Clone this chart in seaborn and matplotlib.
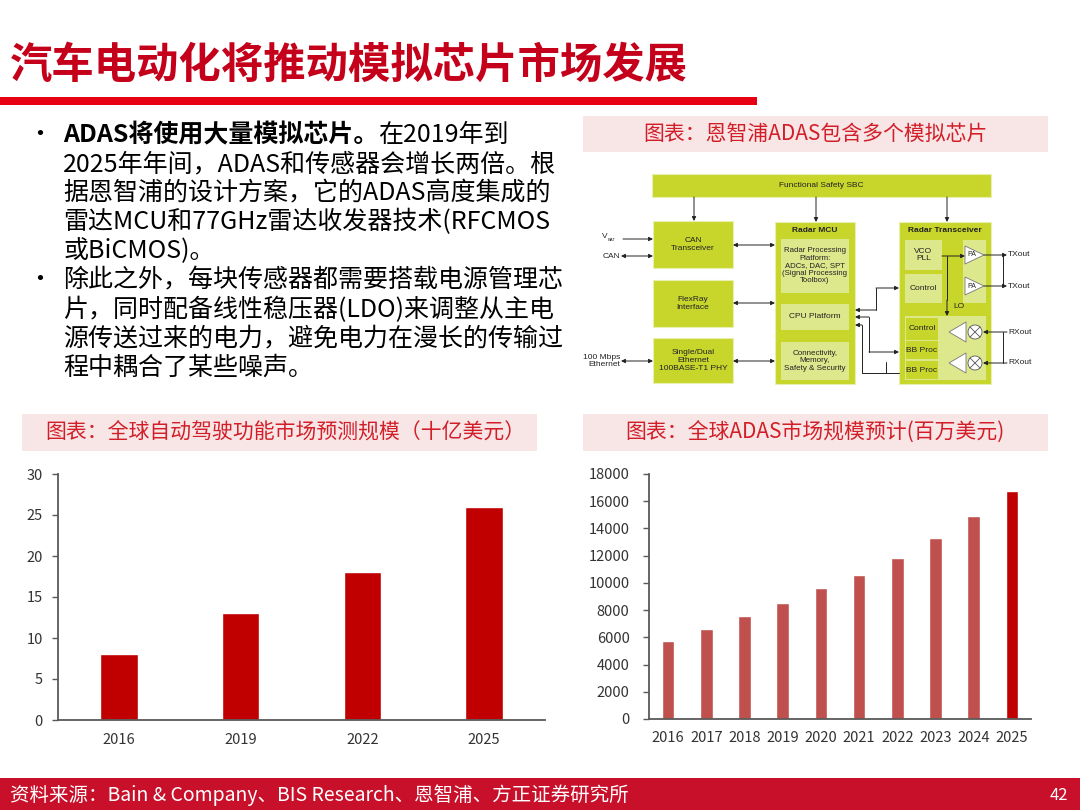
import matplotlib
matplotlib.use('Agg')
import matplotlib.pyplot as plt
import seaborn as sns
import pandas as pd
from matplotlib.patches import Rectangle, Polygon, Circle

sns.set_theme(style='white')
plt.rcParams['font.family'] = ['Noto Sans CJK SC', 'DejaVu Sans']

# ---- data ----
years_ad = ['2016', '2019', '2022', '2025']
ad_market = [8, 13, 18, 26]          # 十亿美元

years_adas = ['2016', '2017', '2018', '2019', '2020',
              '2021', '2022', '2023', '2024', '2025']
adas_market = [5750, 6600, 7570, 8550, 9600,
               10580, 11850, 13320, 14900, 16750]   # 百万美元

title = '汽车电动化将推动模拟芯片市场发展'
bullet_bold = 'ADAS将使用大量模拟芯片。'
bullet_lines = ['在2019年到',
                '2025年年间，ADAS和传感器会增长两倍。根',
                '据恩智浦的设计方案，它的ADAS高度集成的',
                '雷达MCU和77GHz雷达收发器技术(RFCMOS',
                '或BiCMOS)。',
                '除此之外，每块传感器都需要搭载电源管理芯',
                '片，同时配备线性稳压器(LDO)来调整从主电',
                '源传送过来的电力，避免电力在漫长的传输过',
                '程中耦合了某些噪声。']
cap_diagram = '图表：恩智浦ADAS包含多个模拟芯片'
cap_left = '图表：全球自动驾驶功能市场预测规模（十亿美元）'
cap_right = '图表：全球ADAS市场规模预计(百万美元)'
source = '资料来源：Bain & Company、BIS Research、恩智浦、方正证券研究所'
page_no = '42'

RED = '#C00000'
LIME = '#C8D62C'
LIME_LT = '#DDE78C'
INK = '#222222'

fig = plt.figure(figsize=(10.8, 8.1), dpi=100)

# background layer in pixel coordinates
bg = fig.add_axes([0, 0, 1, 1], zorder=0)
bg.set_xlim(0, 1080)
bg.set_ylim(810, 0)
bg.axis('off')

# title + red rule
bg.text(10, 66, title, color='#C4001A', fontsize=30.5, fontweight='bold',
        ha='left', va='center')
bg.add_patch(Rectangle((0, 97), 757, 8, color='#E60012', lw=0))

# bullet text
y0, dy = 135, 29.1
bg.text(27, y0, '•', fontsize=18, va='center', color='black')
bg.text(27, y0 + 5 * dy, '•', fontsize=18, va='center', color='black')
tb = bg.text(63, y0, bullet_bold, fontsize=18, fontweight='bold',
             va='center', ha='left', color='black')
bg.annotate(bullet_lines[0], xy=(1, 0.5), xycoords=tb, fontsize=18,
            va='center', ha='left', color='black')
for i, line in enumerate(bullet_lines[1:], start=1):
    bg.text(63, y0 + i * dy, line, fontsize=18, va='center', ha='left',
            color='black')


def caption(x0, x1, ya, yb, text, tx):
    bg.add_patch(Rectangle((x0, ya), x1 - x0, yb - ya, color='#F8E5E5', lw=0))
    bg.text(tx, (ya + yb) / 2, text, color='#D21E28', fontsize=15,
            ha='center', va='center')


caption(583, 1048, 116, 152, cap_diagram, 815)
caption(22, 537, 414, 451, cap_left, 285)
caption(583, 1048, 414, 451, cap_right, 815)

# footer
bg.add_patch(Rectangle((0, 778), 1080, 32, color='#C8102A', lw=0))
bg.text(10, 795, source, color='white', fontsize=14, ha='left', va='center')
bg.text(1068, 795, page_no, color='white', fontsize=12, ha='right', va='center')

# ---- NXP radar block diagram ----
DF = 'Liberation Sans'


def box(x0, y0, x1, y1, fc=LIME, ec='#E8F0B0', lw=0.8):
    bg.add_patch(Rectangle((x0, y0), x1 - x0, y1 - y0, fc=fc, ec=ec, lw=lw))


def label(x, y, s, size=6, bold=False, ha='center'):
    bg.text(x, y, s, family=DF, fontsize=size, ha=ha, va='center',
            color=INK, fontweight='bold' if bold else 'normal',
            linespacing=1.1)


def arrow(x0, y0, x1, y1, both=False):
    bg.annotate('', xy=(x1, y1), xytext=(x0, y0),
                arrowprops=dict(arrowstyle='<|-|>' if both else '-|>',
                                color=INK, lw=0.7, mutation_scale=6,
                                shrinkA=0, shrinkB=0))


def line(xs, ys):
    bg.plot(xs, ys, color=INK, lw=0.7)


box(652, 174, 991, 197)
label(821, 185.5, 'Functional Safety SBC')
box(653, 221, 733, 268)
label(693, 244.5, 'CAN\nTransceiver')
box(653, 280, 733, 327)
label(693, 303.5, 'FlexRay\nInterface')
box(653, 338, 733, 383)
label(693, 360.5, 'Single/Dual\nEthernet\n100BASE-T1 PHY')

box(775, 222, 855, 384)
label(815, 231, 'Radar MCU', size=6, bold=True)
box(781, 239, 849, 293, fc=LIME_LT, ec='none')
label(815, 266, 'Radar Processing\nPlatform:\nADCs, DAC, SPT\n(Signal Processing\nToolbox)', size=5.6)
box(781, 304, 849, 330, fc=LIME_LT, ec='none')
label(815, 317, 'CPU Platform')
box(781, 342, 849, 380, fc=LIME_LT, ec='none')
label(815, 361, 'Connectivity,\nMemory,\nSafety & Security', size=5.8)

box(899, 222, 991, 384)
label(945, 231, 'Radar Transceiver', size=6, bold=True)
box(905, 240, 942, 270, fc=LIME_LT, ec='none')
label(923.5, 255, 'VCO\nPLL')
box(905, 274, 942, 303, fc=LIME_LT, ec='none')
label(923.5, 288.5, 'Control')
box(963, 240, 986, 303, fc=LIME_LT, ec='none')
box(905, 316, 986, 380, fc=LIME_LT, ec='none')
box(906, 318, 938, 339.5, fc=LIME, ec='none')
label(922, 329, 'Control')
box(906, 340.5, 938, 359, fc=LIME, ec='none')
label(922, 350, 'BB Proc')
box(906, 360.5, 938, 379, fc=LIME, ec='none')
label(922, 370, 'BB Proc')

# PA triangles and Rx chains
for ty in (255, 286):
    bg.add_patch(Polygon([(965, ty - 9), (965, ty + 9), (984, ty)],
                         fc='white', ec='#777777', lw=0.6))
    bg.text(967, ty, 'PA', family=DF, fontsize=5, va='center', color=INK)
    arrow(984, ty, 1007, ty)
    label(1008, ty, 'TXout', ha='left')
for ry in (332, 363):
    bg.add_patch(Polygon([(949, ry), (966, ry - 10), (966, ry + 10)],
                         fc='white', ec='#777777', lw=0.6))
    bg.add_patch(Circle((975, ry), 7, fc='white', ec='#555555', lw=0.6))
    bg.plot([970, 980], [ry - 5, ry + 5], color='#555555', lw=0.6)
    bg.plot([970, 980], [ry + 5, ry - 5], color='#555555', lw=0.6)
    arrow(1007, ry, 983, ry)
    label(1008, ry, 'RXout', ha='left')
line([1003, 1003], [255, 286])
line([1003, 1003], [332, 363])

# LO distribution
arrow(942, 256, 965, 256)
line([947, 947], [256, 300])
arrow(947, 300, 947, 316)
label(953, 306, 'LO', ha='left')

# SBC feeds
arrow(694, 197, 694, 221)
arrow(816, 197, 816, 222)
arrow(947, 197, 947, 222)

# external interfaces
arrow(623, 239, 653, 239)
bg.text(602, 237, 'V', family=DF, fontsize=6, va='center', color=INK)
bg.text(608, 240, 'BAT', family=DF, fontsize=3, va='center', color=INK)
arrow(621, 256, 653, 256, both=True)
label(620, 256, 'CAN', ha='right')
arrow(621, 361, 653, 361, both=True)
label(620, 361, '100 Mbps\nEthernet', ha='right')

# MCU peripherals
arrow(733, 245, 775, 245, both=True)
arrow(733, 303, 775, 303, both=True)
arrow(733, 361, 775, 361, both=True)

# MCU <-> transceiver
arrow(876, 310, 855, 310)
line([876, 876], [310, 288])
arrow(876, 288, 899, 288)
arrow(869, 317, 855, 317)
line([869, 869], [317, 352])
arrow(869, 352, 899, 352)
arrow(862, 325, 855, 325)
line([862, 862, 899], [325, 373, 373])
line([886, 886], [362, 373])

# ---- left chart ----
axL = fig.add_axes([58 / 1080, 1 - 720 / 810, 487 / 1080, 246 / 810], zorder=2)
df_ad = pd.DataFrame({'year': years_ad, 'value': ad_market})
sns.barplot(data=df_ad, x='year', y='value', color=RED, saturation=1,
            width=0.31, ax=axL)
axL.set_ylim(0, 30)
axL.set_yticks(range(0, 31, 5))

# ---- right chart ----
axR = fig.add_axes([649 / 1080, 1 - 719 / 810, 382 / 1080, 245 / 810], zorder=2)
df_adas = pd.DataFrame({'year': years_adas, 'value': adas_market})
pal = {y: ('#C00000' if y == years_adas[-1] else '#C0504D') for y in years_adas}
sns.barplot(data=df_adas, x='year', y='value', hue='year', palette=pal,
            saturation=1, width=0.33, legend=False, ax=axR)
axR.set_ylim(0, 18000)
axR.set_yticks(range(0, 18001, 2000))

for ax, ypad in ((axL, 7), (axR, 10)):
    ax.set_facecolor('none')
    ax.set_xlabel('')
    ax.set_ylabel('')
    sns.despine(ax=ax)
    for s in ('left', 'bottom'):
        ax.spines[s].set_color('#595959')
        ax.spines[s].set_linewidth(1.3)
    ax.tick_params(axis='y', left=True, length=4, width=1, color='#595959',
                   labelsize=10.5, labelcolor='#333333', pad=ypad)
    ax.tick_params(axis='x', bottom=False, length=0, labelsize=10.5,
                   labelcolor='#333333', pad=9)

fig.savefig('out.png', dpi=100)
